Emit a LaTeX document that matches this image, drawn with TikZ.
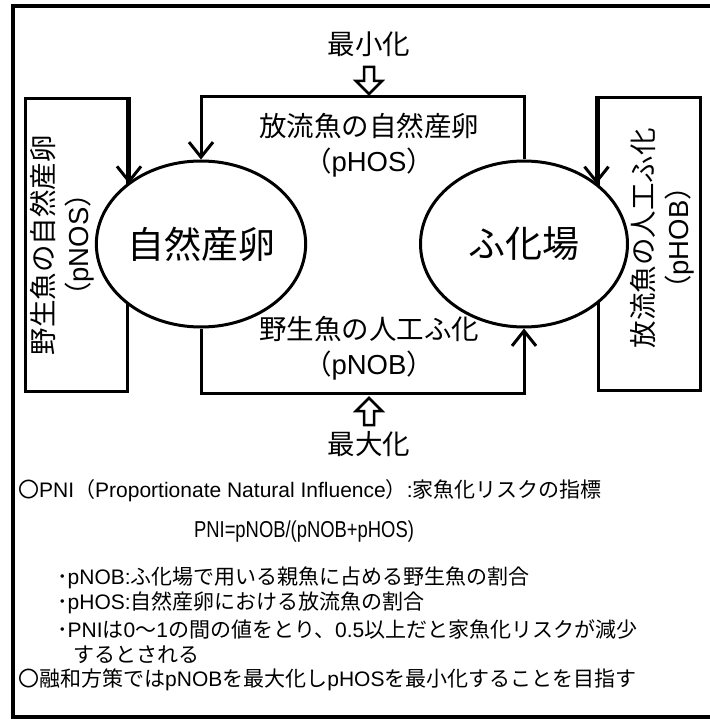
\documentclass[tikz,border=0pt]{standalone}
\usepackage{fontspec}
\setmainfont{Noto Sans CJK JP}
\newfontfamily\en{Liberation Sans}
\newfontfamily\ennarrow{Liberation Sans}[FakeStretch=0.8]
\usetikzlibrary{arrows.meta,shapes.geometric}

\begin{document}
\begin{tikzpicture}[x=1pt, y=-1pt,
	bubble/.style={ellipse, draw, fill=white, line width=3pt, inner sep=0pt,
		minimum width=207pt, minimum height=166pt, font=\fontsize{37}{40}\selectfont},
	sidebox/.style={draw, line width=3pt, minimum width=102pt, minimum height=293pt},
	lbl/.style={align=center, inner sep=0pt, font=\fontsize{27.5}{35}\selectfont},
	flow/.style={line width=3pt, -{Straight Barb[length=15pt,width=24pt,line width=3pt]}},
	hollow/.style={draw, fill=white, line width=2.5pt, line join=miter},
	note/.style={anchor=west, inner sep=0pt, font=\fontsize{21}{24}\selectfont}]
	\useasboundingbox (0,0) rectangle (709,719);
	\draw[line width=4pt] (13,6) rectangle (712,717);

	% side boxes
	\node[sidebox] (wildbox) at (76.5,245) {};
	\node[sidebox] (relbox) at (649,244) {};
	\node[lbl, rotate=90] (wildtxt) at (62,245) {野生魚の自然産卵\\（{\en pNOS}）};
	\node[lbl, rotate=90] (reltxt) at (662,238) {放流魚の人工ふ化\\（{\en pHOB}）};

	% spawning ground and hatchery
	\node[bubble] (spawn) at (201,244) {自然産卵};
	\node[bubble] (hatch) at (524,244) {ふ化場};

	\draw[flow] (wildbox.north east) -- (wildbox.north east |- spawn.141);
	\draw[flow] (relbox.north west) -- (relbox.north west |- hatch.39);
	\draw[flow] (hatch.north) -- (hatch.north |- wildbox.north) -| (spawn.north);
	\draw[flow] (spawn.south) -- (spawn.south |- wildbox.south) -| (hatch.south);

	\node[lbl] (pHOS) at (369,145) {放流魚の自然産卵\\（{\en pHOS}）};
	\node[lbl] (pNOB) at (369,348) {野生魚の人工ふ化\\（{\en pNOB}）};

	\node[lbl] (minimize) at (369,44) {最小化};
	\node[lbl] (maximize) at (369,444) {最大化};
	\foreach \tip/\s in {94/1, 398/-1}
		\draw[hollow] (369,\tip) -- ++(-13,-13*\s) -- ++(8,0) -- ++(0,-14*\s)
			-- ++(10,0) -- ++(0,14*\s) -- ++(8,0) -- cycle;

	% explanation
	\node[note] (n1) at (18,491) {〇{\en PNI}（{\en Proportionate Natural Influence}）{\en :}家魚化リスクの指標};
	\node[note, anchor=center, font=\fontsize{23}{24}\selectfont] (n2) at (304,532) {\ennarrow PNI=pNOB/(pNOB+pHOS)};
	\node[note] (n3) at (57,578) {･{\en pNOB:}ふ化場で用いる親魚に占める野生魚の割合};
	\node[note] (n4) at (57,603) {･{\en pHOS:}自然産卵における放流魚の割合};
	\node[note] (n5) at (57,629) {･{\en PNI}は{\en 0}～{\en 1}の間の値をとり、{\en 0.5}以上だと家魚化リスクが減少};
	\node[note] (n6) at (73,655) {するとされる};
	\node[note] (n7) at (18,680) {〇融和方策では{\en pNOB}を最大化し{\en pHOS}を最小化することを目指す};
\end{tikzpicture}
\end{document}
